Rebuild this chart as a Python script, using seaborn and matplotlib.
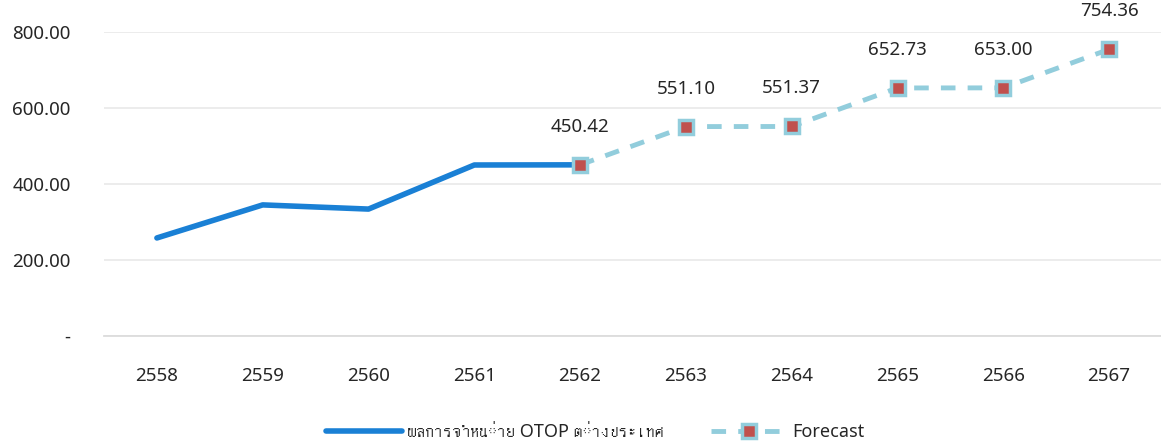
import matplotlib
matplotlib.use("Agg")
import matplotlib.pyplot as plt
from matplotlib import font_manager
import seaborn as sns
import pandas as pd
import numpy as np

years = ["2558", "2559", "2560", "2561", "2562", "2563", "2564", "2565", "2566", "2567"]
actual_years = ["2558", "2559", "2560", "2561", "2562"]
actual_values = [258.0, 345.0, 334.0, 450.0, 450.42]
forecast_years = ["2562", "2563", "2564", "2565", "2566", "2567"]
forecast_values = [450.42, 551.10, 551.37, 652.73, 653.00, 754.36]
y_ticks = [0, 200, 400, 600, 800]
y_tick_labels = ["-", "200.00", "400.00", "600.00", "800.00"]
actual_label = "ผลการจำหน่าย OTOP ต่างประเทศ"
forecast_label = "Forecast"

sns.set_theme(style="white")

# find a font with Thai glyphs
thai_family = None
try:
    from fontTools.ttLib import TTFont
    for f in font_manager.findSystemFonts():
        try:
            tt = TTFont(f, fontNumber=0, lazy=True)
            cmap = tt.getBestCmap()
            if cmap and 0x0E1C in cmap and 0x0E08 in cmap:
                thai_family = font_manager.FontProperties(fname=f).get_name()
                break
        except Exception:
            continue
except Exception:
    pass

families = ["Noto Sans"]
if thai_family:
    families.append(thai_family)
families.append("DejaVu Sans")
plt.rcParams["font.family"] = families

FS = 13.5
TXT = "#262626"

fig = plt.figure(figsize=(11.61, 4.41), dpi=100)
ax = fig.add_axes([104 / 1161, 1 - 336 / 441, (1162 - 104) / 1161, (336 - 32) / 441])

order = {y: i for i, y in enumerate(years)}
df_a = pd.DataFrame({"x": [order[y] for y in actual_years], "v": actual_values})
df_f = pd.DataFrame({"x": [order[y] for y in forecast_years], "v": forecast_values})

sns.lineplot(data=df_a, x="x", y="v", ax=ax, color="#1a80d5", linewidth=4,
             solid_capstyle="round", label=actual_label, zorder=3)
sns.lineplot(data=df_f, x="x", y="v", ax=ax, color="#92cddc", linewidth=3.5,
             linestyle=(0, (3, 2.5)), marker="s", markersize=10.5,
             markerfacecolor="#c0504d", markeredgecolor="#92cddc", markeredgewidth=2.5,
             label=forecast_label, zorder=4)

for xv, v in zip(df_f["x"], df_f["v"]):
    ax.annotate(f"{v:.2f}", (xv, v), xytext=(0, 38), textcoords="offset pixels",
                ha="center", va="center", fontsize=FS, color=TXT,
                annotation_clip=False)

ax.set_xlim(-0.5, len(years) - 0.5)
ax.set_ylim(0, 800)
ax.set_xticks(range(len(years)))
ax.set_xticklabels(years)
ax.set_yticks(y_ticks)
ax.set_yticklabels(y_tick_labels)
ax.tick_params(axis="both", labelsize=FS, colors=TXT, length=0)
ax.tick_params(axis="x", pad=22)
ax.tick_params(axis="y", pad=24)
ax.set_xlabel("")
ax.set_ylabel("")
ax.grid(axis="y", color="#ebebeb", linewidth=1.3)
ax.grid(axis="x", visible=False)
for s in ["top", "right", "left"]:
    ax.spines[s].set_visible(False)
ax.spines["bottom"].set_color("#dcdcdc")
ax.spines["bottom"].set_linewidth(1.3)
ax.set_axisbelow(True)

ax.legend(loc="center", bbox_to_anchor=(595 / 1161, 1 - 432 / 441),
          bbox_transform=fig.transFigure, ncol=2, frameon=False,
          fontsize=13, handlelength=4.2, columnspacing=2.6, handletextpad=0.3)

fig.savefig("out.png", dpi=100)
